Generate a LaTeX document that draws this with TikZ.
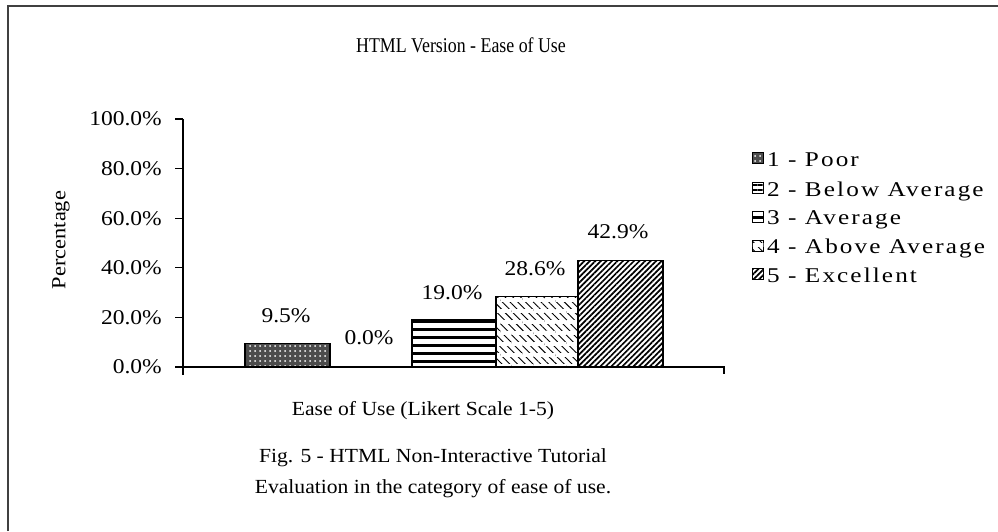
\documentclass[tikz,border=0pt]{standalone}
\usepackage{fontspec}
\setmainfont{Liberation Serif}
\newfontfamily\tickfont{Liberation Serif}[FakeStretch=1.12]
\newfontfamily\capfont{Liberation Serif}[FakeStretch=1.08]
\newfontfamily\titlefont{Liberation Serif}[FakeStretch=0.85]
\newfontfamily\legfont{Liberation Serif}[FakeStretch=1.2, LetterSpace=10]
\newcommand\chartsize{\fontsize{20}{24}\selectfont}
\newcommand\bigsize{\fontsize{21}{25}\selectfont}
\usetikzlibrary{patterns.meta}

\begin{document}
\begin{tikzpicture}[
  x=1pt, y=-1pt,
  bar/.style={draw=black, line width=1.2pt},
  axis/.style={draw=black, line width=1.3pt},
  ticklabel/.style={anchor=east, inner sep=0pt, font=\tickfont\bigsize},
  barlabel/.style={inner sep=0pt, font=\tickfont\bigsize},
  legtext/.style={anchor=base west, inner sep=0pt, font=\legfont\bigsize},
  captext/.style={anchor=base, inner sep=0pt, font=\capfont\chartsize},
  key/.style={draw=black, line width=1pt, minimum size=10.5pt, inner sep=0pt},
  poorfill/.style={fill=black!70, postaction={pattern={Dots[distance=5pt, radius=1pt]}, pattern color=white}},
  belowfill/.style={fill=white, postaction={pattern={Lines[distance=5pt, line width=2.5pt, yshift=1pt]}}},
  avgfill/.style={pattern={Lines[distance=8pt, line width=3pt, yshift=2pt]}},
  abovefill/.style={pattern={Lines[angle=-45, distance=5.5pt, line width=0.9pt]}, postaction={pattern={Lines[distance=11pt, line width=4.5pt]}, pattern color=white}},
  excfill/.style={pattern={Lines[angle=45, distance=3.9pt, line width=1.7pt]}}
]
  \useasboundingbox (0,0) rectangle (998,531);

  % frame (cut off on the right and at the bottom)
  \draw[line width=2pt, black!75] (8,531) -- (8,6) -- (998,6);

  % title
  \node[anchor=base, inner sep=0pt, font=\titlefont\bigsize] (title) at (461,52) {HTML Version - Ease of Use};

  % axes
  \coordinate (ytop) at (183,119);
  \coordinate (ybot) at (183,375);
  \coordinate (xleft) at (175,367);
  \coordinate (xright) at (724,367);
  \coordinate (xtick) at (724,374);
  \draw[axis] (ytop) -- (ybot);
  \draw[axis] (xleft) -- (xright) -- (xtick);

  % ticks and tick labels
  \draw[axis] (175,317.4) -- (183,317.4);
  \draw[axis] (175,267.8) -- (183,267.8);
  \draw[axis] (175,218.2) -- (183,218.2);
  \draw[axis] (175,168.6) -- (183,168.6);
  \draw[axis] (175,119) -- (183,119);
  \node[ticklabel] (t0) at (162,367) {0.0\%};
  \node[ticklabel] (t20) at (162,317.4) {20.0\%};
  \node[ticklabel] (t40) at (162,267.8) {40.0\%};
  \node[ticklabel] (t60) at (162,218.2) {60.0\%};
  \node[ticklabel] (t80) at (162,168.6) {80.0\%};
  \node[ticklabel] (t100) at (162,119) {100.0\%};
  \node[rotate=90, inner sep=0pt, font=\tickfont\chartsize] (ylabel) at (61,240) {Percentage};

  % bars
  \path[poorfill] (245,367) rectangle (330,343.4);
  \path[avgfill] (412,367) rectangle (496,319.9);
  \path[abovefill] (496,367) rectangle (578,296.1);
  \path[excfill] (578,367) rectangle (663,260.6);
  \draw[bar] (245,367) rectangle (330,343.4);
  \draw[bar] (412,367) rectangle (496,319.9);
  \draw[bar] (496,367) rectangle (578,296.1);
  \draw[bar] (578,367) rectangle (663,260.6);

  % bar values
  \node[barlabel] (v1) at (286,316) {9.5\%};
  \node[barlabel] (v2) at (369,338) {0.0\%};
  \node[barlabel] (v3) at (452,293) {19.0\%};
  \node[barlabel] (v4) at (535,269) {28.6\%};
  \node[barlabel] (v5) at (618,232) {42.9\%};

  % legend
  \node[key, poorfill] (k1) at (758,158) {};
  \node[key, belowfill] (k2) at (758,188) {};
  \node[key, avgfill] (k3) at (758,217) {};
  \node[key, abovefill] (k4) at (758,246) {};
  \node[key, excfill] (k5) at (758,274) {};
  \node[legtext] (l1) at (767,166) {1 - Poor};
  \node[legtext] (l2) at (767,196) {2 - Below Average};
  \node[legtext] (l3) at (767,224) {3 - Average};
  \node[legtext] (l4) at (767,253) {4 - Above Average};
  \node[legtext] (l5) at (767,282) {5 - Excellent};

  % axis title and caption
  \node[captext] (xlabel) at (423,415) {Ease of Use (Likert Scale 1-5)};
  \node[captext] (cap1) at (433,462) {Fig. 5 - HTML Non-Interactive Tutorial};
  \node[captext] (cap2) at (433,493) {Evaluation in the category of ease of use.};

\end{tikzpicture}
\end{document}
